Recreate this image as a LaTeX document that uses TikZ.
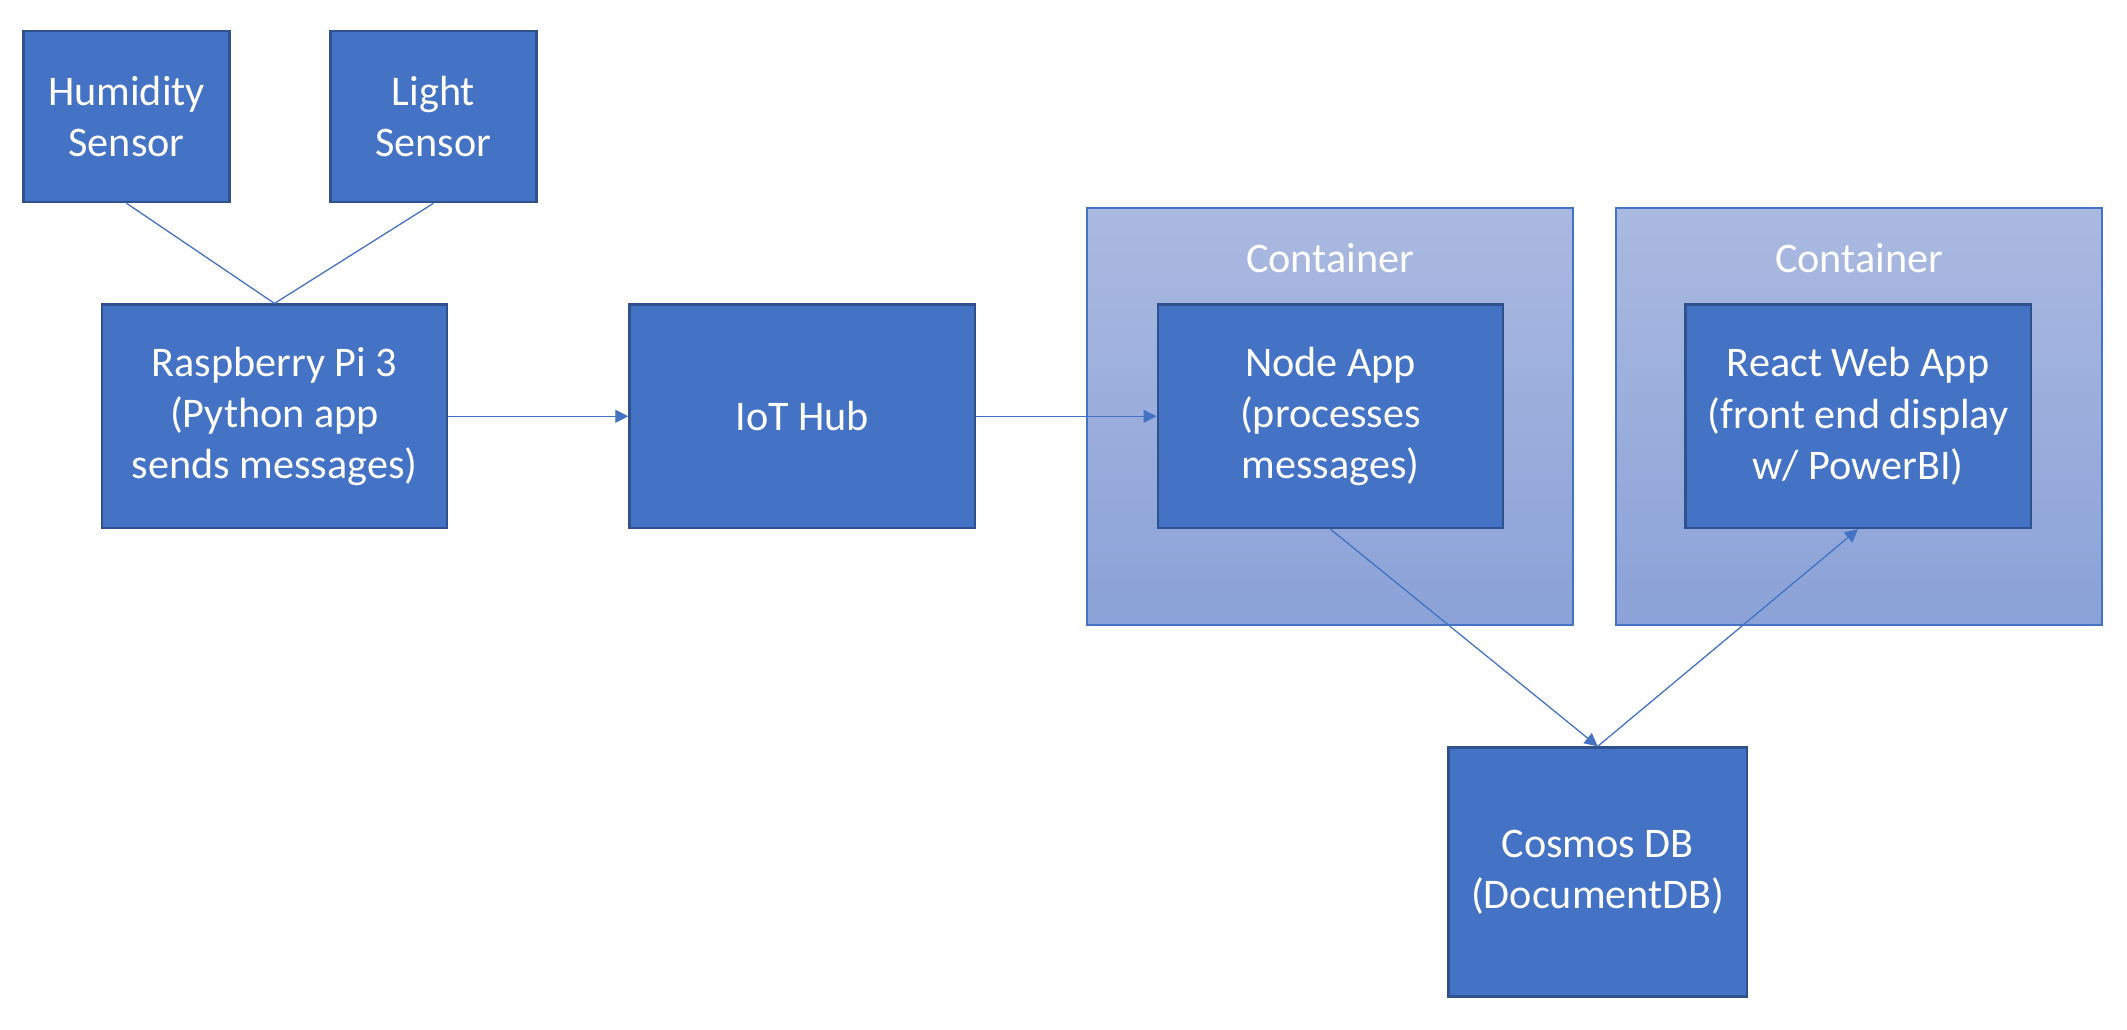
\documentclass[tikz,border=0pt]{standalone}
\usepackage{fontspec}
\setmainfont{Carlito}
\usetikzlibrary{arrows.meta}
\definecolor{boxfill}{HTML}{4472C4}
\definecolor{boxline}{HTML}{2F528F}
\definecolor{contop}{HTML}{AAB9E0}
\definecolor{conbot}{HTML}{8BA2D8}
\definecolor{conline}{HTML}{4472C4}
\definecolor{wire}{HTML}{4472C4}
\tikzset{
  blk/.style={draw=boxline, line width=1.2pt, fill=boxfill, text=white, align=center,
    font=\fontsize{21.1}{25.6}\selectfont, inner sep=0pt},
  contbox/.style={draw=conline, line width=0.6pt, top color=contop, bottom color=conbot},
  ctitle/.style={text=white, font=\fontsize{21.1}{25.6}\selectfont, inner sep=0pt},
  wireline/.style={draw=wire, line width=0.65pt},
  arr/.style={wireline, -{Triangle[length=6.5pt, width=6.5pt]}}
}
\begin{document}
\begin{tikzpicture}[x=0.5pt, y=-0.5pt]
\useasboundingbox (0,0) rectangle (2127,1029);
% containers
\path[contbox] (1087,208) rectangle (1573,625);
\path[contbox] (1616,208) rectangle (2102,625);
\node[ctitle] (c1t) at (1330,258) {Container};
\node[ctitle] (c2t) at (1859,258) {Container};
% boxes
\node[blk, minimum width=103pt, minimum height=85.7pt] (hum) at (126.6,116.4) {Humidity\\Sensor};
\node[blk, minimum width=103pt, minimum height=85.7pt] (light) at (433.4,116.4) {Light\\Sensor};
\node[blk, minimum width=172.5pt, minimum height=111.7pt] (rpi) at (274.5,416.3) {Raspberry Pi 3\\(Python app\\sends messages)};
\node[blk, minimum width=172.7pt, minimum height=111.7pt] (iot) at (802.2,416.3) {IoT Hub};
\node[blk, minimum width=172.7pt, minimum height=111.7pt] (node) at (1330.5,416.3) {Node App\\(processes\\messages)};
\node[blk, minimum width=172.7pt, minimum height=111.7pt] (react) at (1858,416.3) {React Web App\\(front end display\\w/ PowerBI)};
\node[blk, minimum width=149.3pt, minimum height=124.5pt] (cosmos) at (1597.7,872) {Cosmos DB\\(DocumentDB)};
% connectors
\draw[wireline] (hum.south) -- (rpi.north);
\draw[wireline] (light.south) -- (rpi.north);
\draw[arr] (rpi.east) -- (iot.west);
\draw[arr] (iot.east) -- (node.west);
\draw[arr] (node.south) -- (cosmos.north);
\draw[arr] (cosmos.north) -- (react.south);
\end{tikzpicture}
\end{document}
